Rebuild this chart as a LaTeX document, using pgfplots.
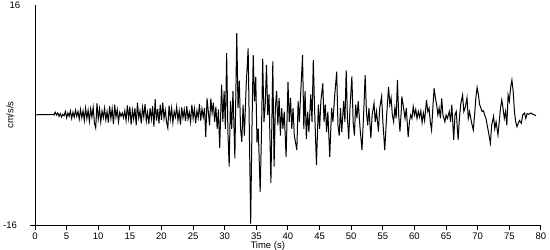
\documentclass[border=0pt]{standalone}
\usepackage{pgfplots}
\pgfplotsset{compat=1.18}
\usepackage{fontspec}
\setmainfont{Liberation Sans}
\begin{document}
\begin{tikzpicture}
\path[use as bounding box] (0,0) rectangle (550bp,250bp);
\begin{axis}[
  at={(35bp,25bp)}, anchor=south west,
  scale only axis, width=506bp, height=220bp,
  xmin=0, xmax=80, ymin=-16, ymax=16,
  axis lines=left, axis line style={-, line width=1bp},
  xtick={0,5,...,80}, ytick={-16}, extra y ticks={16},
  extra y tick style={major tick length=0pt},
  tick align=outside, major tick length=5bp,
  tick style={line width=1bp, black},
  font=\fontsize{9.5bp}{11bp}\selectfont,
  /pgf/number format/assume math mode=true,
  xticklabel style={yshift=1bp},
  yticklabel style={anchor=center, xshift=-20bp},
  xlabel={Time (s)}, ylabel={cm/s/s},
  x label style={at={(axis description cs:0.46,-0.095)}, anchor=center},
  y label style={at={(axis description cs:-0.0494,0.5)}, anchor=center},
  clip=false,
]
\addplot[black, line width=1bp] table {
t v
0.0 0.0
0.5 0.05
1.0 0.05
1.5 0.05
2.0 0.05
2.5 0.05
2.8 0.1
3.0 0.0
3.2 0.4
3.4 0.0
3.6 0.3
3.8 -0.2
4.0 0.2
4.2 -0.3
4.4 0.1
4.6 -0.1
4.8 0.5
5.0 -0.4
5.2 0.3
5.4 -0.2
5.6 0.6
5.8 -0.5
6.0 0.4
6.2 -0.3
6.4 0.7
6.6 -0.2
6.8 0.5
7.0 -0.6
7.2 0.8
7.4 -0.4
7.6 0.6
7.8 -0.8
8.0 1.0
8.2 -0.5
8.4 0.7
8.6 -0.9
8.8 0.9
9.0 -0.3
9.2 1.1
9.4 -1.2
9.6 -1.9
9.8 1.7
10.0 -0.6
10.2 0.9
10.4 -1.0
10.6 0.6
10.8 -0.4
11.0 1.0
11.2 -0.7
11.4 0.5
11.6 -1.1
11.8 1.3
12.0 -0.5
12.2 0.9
12.4 -1.3
12.6 1.5
12.8 -0.3
13.0 0.8
13.2 -1.0
13.4 0.4
13.6 -0.2
13.8 0.3
14.0 -0.4
14.2 0.6
14.4 -0.8
14.6 1.4
14.8 -0.5
15.0 1.2
15.2 -1.4
15.4 0.7
15.6 -0.6
15.8 1.0
16.0 -1.5
16.2 1.8
16.4 -0.4
16.6 0.6
16.8 -1.2
17.0 1.1
17.2 -0.3
17.4 1.6
17.6 -0.9
17.8 0.4
18.0 -1.3
18.2 1.0
18.4 -0.6
18.6 1.3
18.8 -1.7
19.0 2.3
19.2 -0.8
19.4 0.9
19.6 -1.2
19.8 1.5
20.0 -0.7
20.2 1.8
20.4 -0.5
20.6 0.7
20.8 -1.0
21.0 -1.9
21.2 1.4
21.4 -0.6
21.6 1.0
21.8 -1.1
22.0 0.5
22.2 -0.3
22.4 1.2
22.6 -0.8
22.8 0.6
23.0 -1.4
23.2 1.1
23.4 -0.4
23.6 0.8
23.8 -0.9
24.0 1.3
24.2 -0.6
24.4 0.4
24.6 -1.0
24.8 1.5
25.0 -0.5
25.2 0.9
25.4 -1.2
25.6 0.6
25.8 -0.4
26.0 1.6
26.2 -0.8
26.4 0.9
26.6 -0.3
26.8 1.0
27.0 -3.2
27.2 2.4
27.4 0.5
27.6 -1.5
27.8 2.4
28.0 0.3
28.2 1.8
28.4 -1.0
28.6 1.2
28.8 -2.0
29.0 0.8
29.2 -4.8
29.5 4.4
29.7 -1.0
29.9 3.5
30.1 -2.0
30.3 9.0
30.5 -2.5
30.7 -7.5
30.9 2.0
31.1 -2.0
31.3 3.5
31.6 -6.3
31.9 11.9
32.1 1.0
32.3 5.0
32.5 -2.0
32.7 -3.9
32.9 1.5
33.1 -3.0
33.4 4.5
33.7 9.7
33.9 -3.0
34.1 -15.8
34.3 -2.0
34.5 8.7
34.7 2.0
34.9 5.5
35.1 -4.0
35.3 -2.0
35.6 -11.2
35.8 -3.0
36.0 8.2
36.2 -1.0
36.4 1.5
36.6 7.3
36.8 0.0
37.0 3.0
37.3 -9.9
37.6 7.8
37.8 -7.5
38.0 1.0
38.2 3.5
38.4 -1.5
38.6 2.5
38.8 -3.0
39.0 1.0
39.2 -2.0
39.4 0.5
39.7 -6.1
40.0 4.8
40.2 -1.0
40.4 2.5
40.6 -2.0
40.8 1.0
41.0 -3.0
41.4 -5.1
41.6 2.0
41.8 -1.0
42.0 3.0
42.3 8.7
42.5 -2.0
42.7 3.5
42.9 -3.5
43.1 0.5
43.3 -2.5
43.6 3.0
43.8 -1.0
44.0 8.0
44.2 1.0
44.5 -7.3
44.8 1.5
45.0 -2.0
45.2 2.0
45.5 4.6
45.7 -1.0
45.9 1.5
46.1 -2.5
46.3 0.5
46.6 -6.1
46.9 1.0
47.1 -1.0
47.4 3.0
47.7 6.3
47.9 -1.5
48.1 -3.0
48.3 1.0
48.5 -2.5
48.8 2.0
49.0 -1.0
49.2 6.5
49.4 -0.5
49.6 -3.5
49.8 1.0
50.1 5.6
50.3 -1.0
50.5 -3.0
50.7 1.5
50.9 -0.5
51.1 2.0
51.4 -2.0
51.7 -5.1
52.0 1.0
52.2 5.8
52.4 0.5
52.6 -1.5
52.8 1.0
53.1 -3.4
53.3 0.0
53.6 1.7
53.8 -1.0
54.0 0.5
54.3 -2.4
54.5 1.0
54.8 2.7
55.0 -1.0
55.3 -5.1
55.6 0.0
55.9 4.1
56.1 1.5
56.3 2.5
56.5 0.0
56.7 -1.0
56.9 1.0
57.1 -0.5
57.3 5.1
57.5 0.0
57.7 -2.4
57.9 0.5
58.0 2.7
58.2 1.5
58.5 -0.5
58.7 1.0
59.0 -3.2
59.2 -1.0
59.4 0.0
59.6 -0.5
59.8 1.2
60.0 0.0
60.2 0.8
60.4 -0.5
60.6 0.5
60.8 -0.3
61.0 0.6
61.2 -1.1
61.4 0.3
61.6 -0.8
61.9 2.2
62.1 0.5
62.3 1.0
62.5 -1.0
62.7 -2.2
62.9 1.0
63.1 3.9
63.3 2.5
63.5 1.5
63.7 0.0
63.9 1.0
64.1 -0.5
64.3 2.4
64.5 0.0
64.8 -1.0
65.0 0.0
65.2 -0.5
65.5 0.5
65.7 -1.0
65.9 1.5
66.2 -3.6
66.4 0.0
66.6 0.5
66.9 -3.6
67.1 -0.5
67.3 1.5
67.6 2.9
67.8 0.5
68.0 1.0
68.3 2.5
68.5 -0.5
68.7 0.5
69.0 -1.0
69.3 -2.2
69.5 0.0
69.7 2.5
69.9 4.0
70.1 3.0
70.3 1.5
70.5 1.0
70.7 0.5
70.9 0.6
71.1 0.0
71.3 -0.5
71.5 -1.5
71.7 -2.5
72.0 -4.1
72.2 -1.5
72.5 -0.2
72.7 -2.0
72.9 -1.0
73.2 -2.9
73.4 -1.0
73.6 1.0
73.8 2.2
74.0 1.0
74.2 -0.5
74.4 0.5
74.6 -1.5
74.8 2.9
75.0 2.0
75.2 4.0
75.4 5.1
75.6 3.5
75.8 0.5
76.0 -1.0
76.2 -1.7
76.4 -1.2
76.6 -0.8
76.9 -1.2
77.1 0.0
77.4 0.3
77.6 -0.5
77.8 0.2
78.1 0.1
78.4 0.3
78.7 0.1
79.0 0.0
79.2 -0.1
};
\end{axis}
\end{tikzpicture}
\end{document}
